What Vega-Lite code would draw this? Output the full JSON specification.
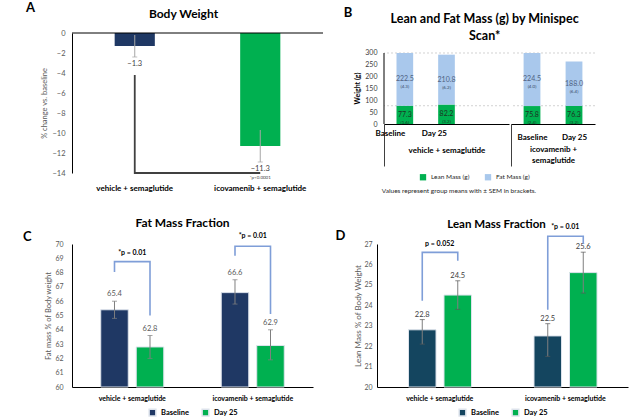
{
  "$schema": "https://vega.github.io/schema/vega-lite/v6.json",
  "padding": {"left": 22, "top": 2, "right": 2, "bottom": 1},
  "background": "white",
  "config": {
    "font": "Lato",
    "view": {"stroke": null},
    "axis": {"grid": false, "domainColor": "#000000", "domainWidth": 1, "labelColor": "#595959", "labelFontSize": 7, "titleColor": "#595959", "titleFontSize": 7.5, "titleFontWeight": "normal", "ticks": false, "labelOverlap": false},
    "legend": {"layout": {"bottom": {"anchor": "middle"}}},
    "title": {"color": "#000000", "fontWeight": "bold"}
  },
  "resolve": {"scale": {"color": "independent"}, "legend": {"color": "independent"}},
  "spacing": 22,
  "columns": 1,
  "align": "none",
  "concat": [
    {
      "spacing": 19,
      "columns": 2,
      "align": "none",
      "resolve": {"scale": {"color": "independent"}, "legend": {"color": "independent"}},
      "concat": [
        {
          "title": {"text": "A", "anchor": "start", "fontSize": 13, "offset": -7, "dx": -15},
          "resolve": {"scale": {"color": "independent"}, "legend": {"color": "independent"}},
          "vconcat": [
            {
              "width": 251,
              "height": 140,
              "title": {"text": "Body Weight", "fontSize": 12, "offset": 8, "anchor": "middle", "dx": -14},
              "data": {"values": [
                {"grp": "vehicle + semaglutide", "pct": -1.3, "lo": -2.4, "hi": -0.2},
                {"grp": "icovamenib + semaglutide", "pct": -11.3, "lo": -12.9, "hi": -9.7}
              ]},
              "layer": [
                {
                  "mark": {"type": "bar"},
                  "encoding": {
                    "x": {"field": "grp", "type": "nominal", "scale": {"domain": ["vehicle + semaglutide", "icovamenib + semaglutide"], "paddingInner": 0.68, "paddingOuter": 0.34}, "axis": {"title": null, "labelAngle": 0, "labelFontSize": 8, "labelFontWeight": "bold", "labelColor": "#000000", "domain": false, "labelPadding": 11}},
                    "y": {"field": "pct", "type": "quantitative", "scale": {"domain": [-14, 0], "nice": false}, "axis": {"values": [-14, -12, -10, -8, -6, -4, -2, 0], "tickCount": 20, "labelExpr": "format(datum.value, 'd')", "title": "% change vs. baseline", "labelPadding": 7, "titlePadding": 3, "labelFontSize": 7.5}},
                    "color": {"field": "grp", "type": "nominal", "scale": {"domain": ["vehicle + semaglutide", "icovamenib + semaglutide"], "range": ["#1f3864", "#00b050"]}, "legend": null}
                  }
                },
                {
                  "data": {"values": [{"ref": 0}]},
                  "mark": {"type": "rule", "color": "#000000"},
                  "encoding": {"y": {"field": "ref", "type": "quantitative"}}
                },
                {
                  "mark": {"type": "rule", "color": "#a6a6a6"},
                  "encoding": {"x": {"field": "grp", "type": "nominal"}, "y": {"field": "lo", "type": "quantitative"}, "y2": {"field": "hi"}}
                },
                {
                  "mark": {"type": "tick", "color": "#a6a6a6", "size": 5, "thickness": 1},
                  "encoding": {"x": {"field": "grp", "type": "nominal"}, "y": {"field": "lo", "type": "quantitative"}}
                },
                {
                  "mark": {"type": "text", "baseline": "top", "dy": 3, "fontSize": 7.5, "color": "#404040"},
                  "encoding": {"x": {"field": "grp", "type": "nominal"}, "y": {"field": "lo", "type": "quantitative"}, "text": {"field": "pct", "type": "quantitative", "format": ".1f"}}
                },
                {
                  "data": {"values": [
                    {"grp": "vehicle + semaglutide", "y": -4.2, "s": 1},
                    {"grp": "vehicle + semaglutide", "y": -14, "s": 2},
                    {"grp": "icovamenib + semaglutide", "y": -14, "s": 3}
                  ]},
                  "mark": {"type": "line", "color": "#404040", "strokeWidth": 1.8},
                  "encoding": {"x": {"field": "grp", "type": "nominal"}, "y": {"field": "y", "type": "quantitative"}, "order": {"field": "s", "type": "quantitative"}}
                },
                {
                  "data": {"values": [{"grp": "icovamenib + semaglutide", "y": -14, "t": "*p<0.0001"}]},
                  "mark": {"type": "text", "baseline": "top", "dy": 2, "fontSize": 4.5, "color": "#404040"},
                  "encoding": {"x": {"field": "grp", "type": "nominal"}, "y": {"field": "y", "type": "quantitative"}, "text": {"field": "t", "type": "nominal"}}
                }
              ]
            }
          ]
        },
        {
          "title": {"text": "B", "anchor": "start", "fontSize": 13, "offset": -7, "dx": -10},
          "resolve": {"scale": {"color": "independent"}, "legend": {"color": "independent"}},
          "vconcat": [
            {
              "title": {"text": "Values represent group means with ± SEM in brackets.", "orient": "bottom", "anchor": "start", "fontSize": 6.5, "fontWeight": "normal", "color": "#262626", "offset": 7, "dx": 28},
              "resolve": {"scale": {"color": "independent"}, "legend": {"color": "independent"}},
              "vconcat": [
                {
                  "title": {"text": ["Lean and Fat Mass (g) by Minispec", "Scan*"], "fontSize": 12.5, "lineHeight": 17, "offset": -9, "anchor": "middle", "dx": 10},
                  "data": {"values": [
                    {"grp": "vehicle", "time": "Baseline", "type": "Lean Mass (g)", "val": 77.3, "sem": "(1.6)"},
                    {"grp": "vehicle", "time": "Baseline", "type": "Fat Mass (g)", "val": 222.5, "sem": "(4.3)"},
                    {"grp": "vehicle", "time": "Day 25", "type": "Lean Mass (g)", "val": 82.2, "sem": "(3.2)"},
                    {"grp": "vehicle", "time": "Day 25", "type": "Fat Mass (g)", "val": 210.8, "sem": "(6.2)"},
                    {"grp": "ico", "time": "Baseline", "type": "Lean Mass (g)", "val": 75.8, "sem": "(2.4)"},
                    {"grp": "ico", "time": "Baseline", "type": "Fat Mass (g)", "val": 224.5, "sem": "(4.0)"},
                    {"grp": "ico", "time": "Day 25", "type": "Lean Mass (g)", "val": 76.3, "sem": "(3.2)"},
                    {"grp": "ico", "time": "Day 25", "type": "Fat Mass (g)", "val": 188.0, "sem": "(6.4)"}
                  ]},
                  "spacing": 0,
                  "hconcat": [
                    {
                      "width": 125,
                      "height": 91,
                      "layer": [
                        {
                          "data": {"values": [{"ref": 300}, {"ref": 77.3}]},
                          "mark": {"type": "rule", "strokeDash": [2, 2], "color": "#c8c8c8", "strokeWidth": 0.8},
                          "encoding": {"y": {"field": "ref", "type": "quantitative"}}
                        },
                        {
                          "data": {"values": [{"a": 0, "b": 300}]},
                          "mark": {"type": "rule", "color": "#000000", "strokeWidth": 1},
                          "encoding": {"x": {"datum": "Baseline", "type": "nominal", "bandPosition": -0.75}, "y": {"field": "a", "type": "quantitative"}, "y2": {"field": "b"}}
                        },
                        {
                          "transform": [
                            {"filter": "datum.grp === 'vehicle'"},
                            {"stack": "val", "groupby": ["time"], "sort": [{"field": "type", "order": "descending"}], "as": ["lo", "hi"]}
                          ],
                          "mark": {"type": "bar"},
                          "encoding": {
                            "x": {"field": "time", "type": "nominal", "scale": {"domain": ["Baseline", "Day 25", "gap"], "paddingInner": 0.6, "paddingOuter": 0.3}, "axis": {"title": "vehicle + semaglutide", "titleFontSize": 8, "titleFontWeight": "bold", "titleColor": "#000000", "titlePadding": -20, "labelFontSize": 8, "labelFontWeight": "bold", "labelColor": "#000000", "labelAngle": 0, "labelExpr": "datum.value === 'gap' ? '' : datum.value", "ticks": true, "tickOffset": -20.8, "labelOffset": 20.8, "tickSize": 42, "tickColor": "#404040", "tickOpacity": {"condition": {"test": "datum.value === 'Baseline'", "value": 1}, "value": 0}, "labelPadding": -33}},
                            "y": {"field": "lo", "type": "quantitative", "scale": {"domain": [0, 384.5], "nice": false}, "axis": {"values": [0, 50, 100, 150, 200, 250, 300], "tickCount": 20, "labelExpr": "format(datum.value, 'd')", "domain": false, "title": "Weight (g)", "titleFontWeight": "bold", "titleColor": "#000000", "titleFontSize": 7, "labelColor": "#404040", "labelPadding": 7, "titlePadding": 4, "titleY": 55}},
                            "y2": {"field": "hi"},
                            "color": {"field": "type", "type": "nominal", "scale": {"domain": ["Lean Mass (g)", "Fat Mass (g)"], "range": ["#00b050", "#a9c8ec"]}, "legend": {"orient": "bottom", "direction": "horizontal", "title": null, "symbolType": "square", "symbolSize": 40, "labelFontSize": 6.5, "labelColor": "#262626", "offset": 6, "columnPadding": 14}}
                          }
                        },
                        {
                          "transform": [
                            {"filter": "datum.grp === 'vehicle'"},
                            {"stack": "val", "groupby": ["time"], "sort": [{"field": "type", "order": "descending"}], "as": ["lo", "hi"]},
                            {"fold": ["lo", "hi"], "as": ["k", "pos"]},
                            {"aggregate": [{"op": "mean", "field": "pos", "as": "mid"}], "groupby": ["time", "type", "val", "sem"]}
                          ],
                          "mark": {"type": "text", "fontSize": 7, "baseline": "middle"},
                          "encoding": {
                            "x": {"field": "time", "type": "nominal"},
                            "y": {"field": "mid", "type": "quantitative"},
                            "text": {"field": "val", "type": "quantitative", "format": ".1f"},
                            "color": {"condition": {"test": "datum.type === 'Fat Mass (g)'", "value": "#4f6282"}, "value": "#1d3324"}
                          }
                        },
                        {
                          "transform": [
                            {"filter": "datum.grp === 'vehicle'"},
                            {"stack": "val", "groupby": ["time"], "sort": [{"field": "type", "order": "descending"}], "as": ["lo", "hi"]},
                            {"fold": ["lo", "hi"], "as": ["k", "pos"]},
                            {"aggregate": [{"op": "mean", "field": "pos", "as": "mid"}], "groupby": ["time", "type", "val", "sem"]}
                          ],
                          "mark": {"type": "text", "fontSize": 4.5, "baseline": "middle", "dy": 8},
                          "encoding": {
                            "x": {"field": "time", "type": "nominal"},
                            "y": {"field": "mid", "type": "quantitative"},
                            "text": {"field": "sem", "type": "nominal"},
                            "color": {"condition": {"test": "datum.type === 'Fat Mass (g)'", "value": "#3a4a66"}, "value": "#1d3324"}
                          }
                        }
                      ]
                    },
                    {
                      "width": 84,
                      "height": 91,
                      "layer": [
                        {
                          "data": {"values": [{"ref": 300}, {"ref": 77.3}]},
                          "mark": {"type": "rule", "strokeDash": [2, 2], "color": "#c8c8c8", "strokeWidth": 0.8},
                          "encoding": {"y": {"field": "ref", "type": "quantitative", "scale": {"domain": [0, 384.5], "nice": false}, "axis": null}}
                        },
                        {
                          "transform": [
                            {"filter": "datum.grp === 'ico'"},
                            {"stack": "val", "groupby": ["time"], "sort": [{"field": "type", "order": "descending"}], "as": ["lo", "hi"]}
                          ],
                          "mark": {"type": "bar"},
                          "encoding": {
                            "x": {"field": "time", "type": "nominal", "scale": {"domain": ["Baseline", "Day 25"], "paddingInner": 0.6, "paddingOuter": 0.3}, "axis": {"title": ["icovamenib +", "semaglutide"], "titleFontSize": 8, "titleFontWeight": "bold", "titleColor": "#000000", "titlePadding": -21, "titleLineHeight": 11, "labelFontSize": 8, "labelFontWeight": "bold", "labelColor": "#000000", "labelAngle": 0, "ticks": true, "tickOffset": -21, "labelOffset": 21, "tickSize": 42, "tickColor": "#404040", "tickOpacity": {"condition": {"test": "datum.value === 'Baseline'", "value": 1}, "value": 0}, "labelPadding": -33}},
                            "y": {"field": "lo", "type": "quantitative", "scale": {"domain": [0, 384.5], "nice": false}, "axis": null},
                            "y2": {"field": "hi"},
                            "color": {"field": "type", "type": "nominal", "scale": {"domain": ["Lean Mass (g)", "Fat Mass (g)"], "range": ["#00b050", "#a9c8ec"]}, "legend": {"orient": "bottom", "direction": "horizontal", "title": null, "symbolType": "square", "symbolSize": 40, "labelFontSize": 6.5, "labelColor": "#262626", "offset": 6, "columnPadding": 14}}
                          }
                        },
                        {
                          "transform": [
                            {"filter": "datum.grp === 'ico'"},
                            {"stack": "val", "groupby": ["time"], "sort": [{"field": "type", "order": "descending"}], "as": ["lo", "hi"]},
                            {"fold": ["lo", "hi"], "as": ["k", "pos"]},
                            {"aggregate": [{"op": "mean", "field": "pos", "as": "mid"}], "groupby": ["time", "type", "val", "sem"]}
                          ],
                          "mark": {"type": "text", "fontSize": 7, "baseline": "middle"},
                          "encoding": {
                            "x": {"field": "time", "type": "nominal"},
                            "y": {"field": "mid", "type": "quantitative", "axis": null},
                            "text": {"field": "val", "type": "quantitative", "format": ".1f"},
                            "color": {"condition": {"test": "datum.type === 'Fat Mass (g)'", "value": "#4f6282"}, "value": "#1d3324"}
                          }
                        },
                        {
                          "transform": [
                            {"filter": "datum.grp === 'ico'"},
                            {"stack": "val", "groupby": ["time"], "sort": [{"field": "type", "order": "descending"}], "as": ["lo", "hi"]},
                            {"fold": ["lo", "hi"], "as": ["k", "pos"]},
                            {"aggregate": [{"op": "mean", "field": "pos", "as": "mid"}], "groupby": ["time", "type", "val", "sem"]}
                          ],
                          "mark": {"type": "text", "fontSize": 4.5, "baseline": "middle", "dy": 8},
                          "encoding": {
                            "x": {"field": "time", "type": "nominal"},
                            "y": {"field": "mid", "type": "quantitative", "axis": null},
                            "text": {"field": "sem", "type": "nominal"},
                            "color": {"condition": {"test": "datum.type === 'Fat Mass (g)'", "value": "#3a4a66"}, "value": "#1d3324"}
                          }
                        }
                      ]
                    }
                  ]
                }
              ]
            }
          ]
        }
      ]
    },
    {
      "spacing": 22,
      "columns": 2,
      "align": "none",
      "resolve": {"scale": {"color": "independent"}, "legend": {"color": "independent"}},
      "concat": [
        {
          "title": {"text": "C", "anchor": "start", "fontSize": 13, "offset": -27, "dx": -22},
          "resolve": {"scale": {"color": "independent"}, "legend": {"color": "independent"}},
          "vconcat": [
            {
              "width": 241,
              "height": 143,
              "title": {"text": "Fat Mass Fraction", "fontSize": 12, "offset": 2, "anchor": "middle", "dx": -10},
              "data": {"values": [
                {"grp": "vehicle + semaglutide", "time": "Baseline", "v": 65.4, "lo": 64.8, "hi": 66.0},
                {"grp": "vehicle + semaglutide", "time": "Day 25", "v": 62.8, "lo": 62.0, "hi": 63.6},
                {"grp": "icovamenib + semaglutide", "time": "Baseline", "v": 66.6, "lo": 65.8, "hi": 67.5},
                {"grp": "icovamenib + semaglutide", "time": "Day 25", "v": 62.9, "lo": 61.9, "hi": 64.0}
              ]},
              "layer": [
                {
                  "mark": {"type": "bar", "stroke": "#dde3ec", "strokeWidth": 1},
                  "encoding": {
                    "x": {"field": "grp", "type": "nominal", "scale": {"domain": ["vehicle + semaglutide", "icovamenib + semaglutide"], "paddingInner": 0.477, "paddingOuter": 0.2385}, "axis": {"title": null, "labelAngle": 0, "labelFontSize": 7, "labelFontWeight": "bold", "labelColor": "#000000", "labelPadding": 7}},
                    "xOffset": {"field": "time", "type": "nominal", "scale": {"domain": ["Baseline", "Day 25"], "paddingInner": 0.225, "paddingOuter": 0}},
                    "y": {"field": "v", "type": "quantitative", "scale": {"domain": [60, 70], "nice": false}, "axis": {"values": [60, 61, 62, 63, 64, 65, 66, 67, 68, 69, 70], "tickCount": 20, "labelExpr": "format(datum.value, 'd')", "title": "Fat mass % of Body weight", "labelPadding": 9, "titlePadding": 2}},
                    "y2": {"datum": 60},
                    "color": {"field": "time", "type": "nominal", "scale": {"domain": ["Baseline", "Day 25"], "range": ["#1f3864", "#00b050"]}, "legend": {"orient": "bottom", "direction": "horizontal", "title": null, "symbolType": "square", "symbolSize": 45, "labelFontSize": 7.5, "labelFontWeight": "bold", "labelColor": "#000000", "offset": 7, "columnPadding": 10}}
                  }
                },
                {
                  "mark": {"type": "rule", "color": "#7f7f7f"},
                  "encoding": {"x": {"field": "grp", "type": "nominal"}, "xOffset": {"field": "time", "type": "nominal"}, "y": {"field": "lo", "type": "quantitative"}, "y2": {"field": "hi"}}
                },
                {
                  "mark": {"type": "tick", "color": "#7f7f7f", "size": 5, "thickness": 1},
                  "encoding": {"x": {"field": "grp", "type": "nominal"}, "xOffset": {"field": "time", "type": "nominal"}, "y": {"field": "hi", "type": "quantitative"}}
                },
                {
                  "mark": {"type": "tick", "color": "#7f7f7f", "size": 5, "thickness": 1},
                  "encoding": {"x": {"field": "grp", "type": "nominal"}, "xOffset": {"field": "time", "type": "nominal"}, "y": {"field": "lo", "type": "quantitative"}}
                },
                {
                  "mark": {"type": "text", "baseline": "bottom", "dy": -3, "fontSize": 7.5, "color": "#595959"},
                  "encoding": {"x": {"field": "grp", "type": "nominal"}, "xOffset": {"field": "time", "type": "nominal"}, "y": {"field": "hi", "type": "quantitative"}, "text": {"field": "v", "type": "quantitative", "format": ".1f"}}
                },
                {
                  "data": {"values": [
                    {"grp": "vehicle + semaglutide", "time": "Baseline", "y": 68.05, "s": 1},
                    {"grp": "vehicle + semaglutide", "time": "Baseline", "y": 68.77, "s": 2},
                    {"grp": "vehicle + semaglutide", "time": "Day 25", "y": 68.77, "s": 3},
                    {"grp": "vehicle + semaglutide", "time": "Day 25", "y": 65.0, "s": 4},
                    {"grp": "icovamenib + semaglutide", "time": "Baseline", "y": 69.18, "s": 1},
                    {"grp": "icovamenib + semaglutide", "time": "Baseline", "y": 69.84, "s": 2},
                    {"grp": "icovamenib + semaglutide", "time": "Day 25", "y": 69.84, "s": 3},
                    {"grp": "icovamenib + semaglutide", "time": "Day 25", "y": 65.1, "s": 4}
                  ]},
                  "mark": {"type": "line", "color": "#7f9ed8", "strokeWidth": 1.6},
                  "encoding": {"x": {"field": "grp", "type": "nominal"}, "xOffset": {"field": "time", "type": "nominal"}, "y": {"field": "y", "type": "quantitative"}, "detail": {"field": "grp", "type": "nominal"}, "order": {"field": "s", "type": "quantitative"}}
                },
                {
                  "data": {"values": [
                    {"grp": "vehicle + semaglutide", "y": 69.37, "t": "*p = 0.01"},
                    {"grp": "icovamenib + semaglutide", "y": 70.54, "t": "*p = 0.01"}
                  ]},
                  "mark": {"type": "text", "fontSize": 7, "fontWeight": "bold", "color": "#000000", "baseline": "middle"},
                  "encoding": {"x": {"field": "grp", "type": "nominal"}, "y": {"field": "y", "type": "quantitative"}, "text": {"field": "t", "type": "nominal"}}
                }
              ]
            }
          ]
        },
        {
          "title": {"text": "D", "anchor": "start", "fontSize": 13, "offset": -24, "dx": -19},
          "resolve": {"scale": {"color": "independent"}, "legend": {"color": "independent"}},
          "vconcat": [
            {
              "width": 251,
              "height": 143,
              "title": {"text": "Lean Mass Fraction", "fontSize": 11.5, "offset": -7, "anchor": "middle", "dx": -6},
              "data": {"values": [
                {"grp": "vehicle + semaglutide", "time": "Baseline", "v": 22.8, "lo": 22.1, "hi": 23.3},
                {"grp": "vehicle + semaglutide", "time": "Day 25", "v": 24.5, "lo": 23.8, "hi": 25.2},
                {"grp": "icovamenib + semaglutide", "time": "Baseline", "v": 22.5, "lo": 21.5, "hi": 23.1},
                {"grp": "icovamenib + semaglutide", "time": "Day 25", "v": 25.6, "lo": 24.6, "hi": 26.6}
              ]},
              "layer": [
                {
                  "mark": {"type": "bar", "stroke": "#dde3ec", "strokeWidth": 1},
                  "encoding": {
                    "x": {"field": "grp", "type": "nominal", "scale": {"domain": ["vehicle + semaglutide", "icovamenib + semaglutide"], "paddingInner": 0.502, "paddingOuter": 0.251}, "axis": {"title": null, "labelAngle": 0, "labelFontSize": 7, "labelFontWeight": "bold", "labelColor": "#000000", "labelPadding": 7}},
                    "xOffset": {"field": "time", "type": "nominal", "scale": {"domain": ["Baseline", "Day 25"], "paddingInner": 0.214, "paddingOuter": 0}},
                    "y": {"field": "v", "type": "quantitative", "scale": {"domain": [20, 27], "nice": false}, "axis": {"values": [20, 21, 22, 23, 24, 25, 26, 27], "tickCount": 20, "labelExpr": "format(datum.value, 'd')", "title": "Lean Mass % of Body Weight", "titleFontSize": 8, "labelPadding": 5, "titlePadding": 1.5}},
                    "y2": {"datum": 20},
                    "color": {"field": "time", "type": "nominal", "scale": {"domain": ["Baseline", "Day 25"], "range": ["#14455f", "#00b050"]}, "legend": {"orient": "bottom", "direction": "horizontal", "title": null, "symbolType": "square", "symbolSize": 45, "labelFontSize": 7.5, "labelFontWeight": "bold", "labelColor": "#000000", "offset": 7, "columnPadding": 10}}
                  }
                },
                {
                  "mark": {"type": "rule", "color": "#7f7f7f"},
                  "encoding": {"x": {"field": "grp", "type": "nominal"}, "xOffset": {"field": "time", "type": "nominal"}, "y": {"field": "lo", "type": "quantitative"}, "y2": {"field": "hi"}}
                },
                {
                  "mark": {"type": "tick", "color": "#595959", "size": 5, "thickness": 1},
                  "encoding": {"x": {"field": "grp", "type": "nominal"}, "xOffset": {"field": "time", "type": "nominal"}, "y": {"field": "hi", "type": "quantitative"}}
                },
                {
                  "mark": {"type": "tick", "color": "#595959", "size": 5, "thickness": 1},
                  "encoding": {"x": {"field": "grp", "type": "nominal"}, "xOffset": {"field": "time", "type": "nominal"}, "y": {"field": "lo", "type": "quantitative"}}
                },
                {
                  "mark": {"type": "text", "baseline": "bottom", "dy": -1, "fontSize": 7.5, "color": "#404040"},
                  "encoding": {"x": {"field": "grp", "type": "nominal"}, "xOffset": {"field": "time", "type": "nominal"}, "y": {"field": "hi", "type": "quantitative"}, "text": {"field": "v", "type": "quantitative", "format": ".1f"}}
                },
                {
                  "data": {"values": [
                    {"grp": "vehicle + semaglutide", "time": "Baseline", "y": 24.22, "s": 1},
                    {"grp": "vehicle + semaglutide", "time": "Baseline", "y": 26.59, "s": 2},
                    {"grp": "vehicle + semaglutide", "time": "Day 25", "y": 26.59, "s": 3},
                    {"grp": "vehicle + semaglutide", "time": "Day 25", "y": 26.18, "s": 4},
                    {"grp": "icovamenib + semaglutide", "time": "Baseline", "y": 23.78, "s": 1},
                    {"grp": "icovamenib + semaglutide", "time": "Baseline", "y": 27.38, "s": 2},
                    {"grp": "icovamenib + semaglutide", "time": "Day 25", "y": 27.38, "s": 3},
                    {"grp": "icovamenib + semaglutide", "time": "Day 25", "y": 27.0, "s": 4}
                  ]},
                  "mark": {"type": "line", "color": "#7f9ed8", "strokeWidth": 1.6},
                  "encoding": {"x": {"field": "grp", "type": "nominal"}, "xOffset": {"field": "time", "type": "nominal"}, "y": {"field": "y", "type": "quantitative"}, "detail": {"field": "grp", "type": "nominal"}, "order": {"field": "s", "type": "quantitative"}}
                },
                {
                  "data": {"values": [
                    {"grp": "vehicle + semaglutide", "y": 27.0, "t": "p = 0.052"},
                    {"grp": "icovamenib + semaglutide", "y": 27.82, "t": "*p = 0.01"}
                  ]},
                  "mark": {"type": "text", "fontSize": 7, "fontWeight": "bold", "color": "#000000", "baseline": "middle"},
                  "encoding": {"x": {"field": "grp", "type": "nominal"}, "y": {"field": "y", "type": "quantitative"}, "text": {"field": "t", "type": "nominal"}}
                }
              ]
            }
          ]
        }
      ]
    }
  ]
}
